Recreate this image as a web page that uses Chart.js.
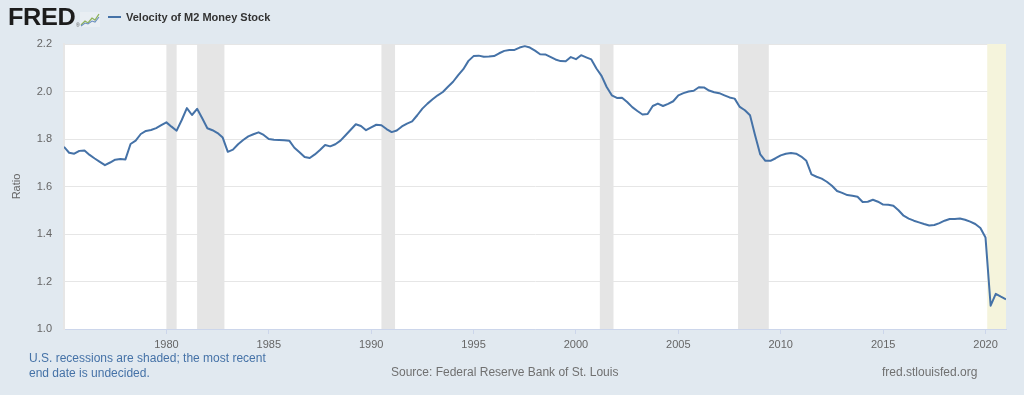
<!DOCTYPE html>
<html><head><meta charset="utf-8">
<script src="https://cdn.jsdelivr.net/npm/chart.js@4.4.1/dist/chart.umd.min.js"></script>
<style>
html,body{margin:0;padding:0;background:#e1e9f0;}
#wrap{position:relative;width:1024px;height:395px;overflow:hidden;font-family:"Liberation Sans",Arial,sans-serif;}
#c{position:absolute;left:0;top:0;}
.logo{position:absolute;left:8px;top:6px;font-weight:bold;font-size:23px;line-height:23px;color:#1c1c1c;transform:scale(1.1,1);transform-origin:left top;letter-spacing:-0.3px;}
.reg{position:absolute;left:76px;top:22px;font-size:5px;color:#555;}
.icon{position:absolute;left:80px;top:12px;}
.legend{position:absolute;left:108px;top:11px;font-weight:bold;font-size:11px;line-height:13px;color:#333;white-space:nowrap;}
.legend .sw{display:inline-block;width:13px;height:2px;background:#4572a7;vertical-align:middle;margin-right:5px;position:relative;top:-1px;}
.note{position:absolute;left:29px;top:351px;font-size:12px;line-height:15px;color:#4572a7;}
.src{position:absolute;left:391px;top:365px;font-size:12px;line-height:15px;color:#707070;white-space:nowrap;}
.url{position:absolute;left:882px;top:365px;font-size:12px;line-height:15px;color:#707070;white-space:nowrap;}
</style></head>
<body>
<div id="wrap">
<canvas id="c" width="1024" height="395"></canvas>
<div class="logo">FRED</div>
<div class="reg">®</div>
<svg class="icon" width="20" height="15" viewBox="0 0 20 15">
<rect x="0" y="0" width="20" height="15" fill="#e9eef3"/>
<polyline points="1,13 5,9 8,11 12,6 15,8 19,2" fill="none" stroke="#8fb35a" stroke-width="1.3"/>
<polyline points="1,14 5,11 8,12 12,9 15,10 19,5" fill="none" stroke="#6b8fbf" stroke-width="1.1"/>
</svg>
<div class="legend"><span class="sw"></span>Velocity of M2 Money Stock</div>
<div class="note">U.S. recessions are shaded; the most recent<br>end date is undecided.</div>
<div class="src">Source: Federal Reserve Bank of St. Louis</div>
<div class="url">fred.stlouisfed.org</div>
</div>
<script>
// Quarterly observations, first quarter 1975 Q1
const firstYear = 1975;
const velocity = [
1.767,1.742,1.738,1.750,1.752,1.733,1.718,1.704,1.690,1.701,
1.713,1.716,1.714,1.779,1.793,1.821,1.834,1.838,1.846,1.858,
1.870,1.852,1.835,1.880,1.930,1.901,1.927,1.887,1.845,1.837,
1.825,1.806,1.746,1.755,1.778,1.796,1.811,1.820,1.828,1.817,
1.800,1.797,1.796,1.795,1.793,1.763,1.744,1.724,1.720,1.735,
1.754,1.775,1.769,1.778,1.793,1.816,1.839,1.862,1.855,1.837,
1.849,1.860,1.858,1.842,1.829,1.836,1.853,1.865,1.874,1.900,
1.928,1.949,1.967,1.984,1.998,2.020,2.041,2.069,2.094,2.129,
2.149,2.151,2.146,2.147,2.149,2.161,2.171,2.175,2.175,2.185,
2.191,2.185,2.172,2.157,2.156,2.146,2.135,2.128,2.127,2.145,
2.136,2.153,2.144,2.135,2.097,2.066,2.019,1.984,1.973,1.974,
1.956,1.934,1.918,1.903,1.905,1.939,1.949,1.939,1.948,1.959,
1.984,1.993,2.000,2.003,2.018,2.017,2.004,1.997,1.993,1.984,
1.975,1.970,1.935,1.921,1.900,1.815,1.735,1.708,1.708,1.719,
1.731,1.738,1.741,1.738,1.726,1.708,1.651,1.641,1.633,1.620,
1.603,1.581,1.573,1.564,1.561,1.557,1.535,1.536,1.544,1.536,
1.524,1.523,1.519,1.500,1.477,1.465,1.456,1.449,1.442,1.436,
1.438,1.446,1.456,1.463,1.463,1.465,1.460,1.452,1.442,1.425,
1.385,1.098,1.148,1.136,1.125
];
const xTickYears = [1980,1985,1990,1995,2000,2005,2010,2015,2020];
const yTicks = [1.0,1.2,1.4,1.6,1.8,2.0,2.2];
const recessionStart = ['1980-01','1981-07','1990-07','2001-03','2007-12','2020-02'];
const recessionEnd   = ['1980-07','1982-11','1991-03','2001-11','2009-06',null];

const toYear = s => { const [y,m] = s.split('-').map(Number); return y + (m-1)/12; };
const points = velocity.map((v,i)=>({x:firstYear + i/4, y:v}));
const xMin = firstYear, xMax = firstYear + (velocity.length-1)/4;

const bgPlugin = {
  id:'bg',
  beforeDraw(chart){
    const {ctx, chartArea:a} = chart;
    ctx.save(); ctx.fillStyle='#ffffff';
    ctx.fillRect(a.left, a.top, a.right-a.left, a.bottom-a.top);
    ctx.restore();
  },
  beforeDatasetsDraw(chart){
    const {ctx, chartArea:a, scales:{x}} = chart;
    ctx.save();
    recessionStart.forEach((s,i)=>{
      const e = recessionEnd[i];
      const x0 = Math.max(a.left, x.getPixelForValue(toYear(s)));
      const x1 = e ? x.getPixelForValue(toYear(e)) : a.right;
      ctx.fillStyle = e ? '#e5e5e5' : '#f5f4dc';
      ctx.fillRect(x0, a.top, Math.min(a.right,x1)-x0, a.bottom-a.top);
    });
    ctx.restore();
  }
};

new Chart(document.getElementById('c'), {
  type:'line',
  data:{datasets:[{data:points, borderColor:'#4572a7', borderWidth:2, pointRadius:0, tension:0, fill:false, borderJoinStyle:'round'}]},
  options:{
    responsive:false, animation:false, events:[],
    layout:{padding:{top:44,right:18,left:0,bottom:0}},
    plugins:{legend:{display:false}, tooltip:{enabled:false}},
    scales:{
      x:{type:'linear', min:xMin, max:xMax,
        afterBuildTicks(s){ s.ticks = xTickYears.map(v=>({value:v})); },
        afterFit(s){ s.height = 66; },
        ticks:{color:'#666', font:{family:'"Liberation Sans", Arial, sans-serif', size:11}, padding:4, maxRotation:0, autoSkip:false, callback:v=>String(v)},
        grid:{drawOnChartArea:false, color:'#ccd6eb', tickLength:5},
        border:{color:'#ccd6eb'}
      },
      y:{min:1.0, max:2.2,
        afterBuildTicks(s){ s.ticks = yTicks.map(v=>({value:v})); },
        afterFit(s){ s.width = 64; },
        ticks:{color:'#666', font:{family:'"Liberation Sans", Arial, sans-serif', size:11}, padding:12, callback:v=>v.toFixed(1)},
        grid:{color:'#e6e6e6', drawTicks:false},
        border:{display:true, color:'#e6e6e6', width:2},
        title:{display:true, text:'Ratio', color:'#666', font:{family:'"Liberation Sans", Arial, sans-serif', size:11}, padding:{top:10,bottom:0}}
      }
    }
  },
  plugins:[bgPlugin]
});
</script>
</body></html>
